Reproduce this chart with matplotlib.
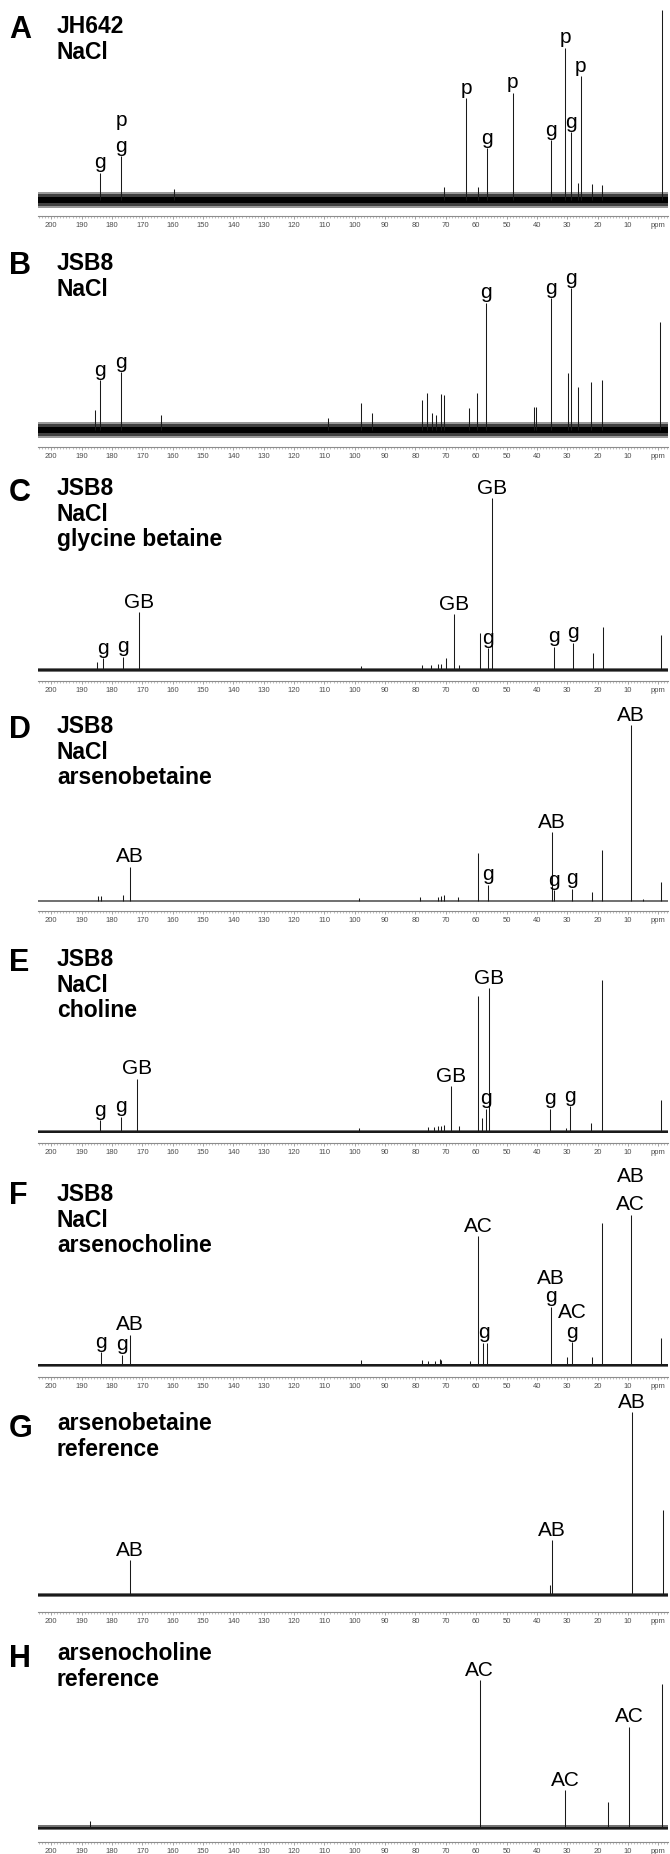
import numpy as np
import matplotlib
matplotlib.use("Agg")
import matplotlib.pyplot as plt
from matplotlib.ticker import MultipleLocator

plt.rcParams['font.family'] = ['Liberation Sans', 'DejaVu Sans']

# ---------------- data (ppm positions, peak heights in arbitrary units) ----------------
A_ppm = [184.0, 177.0, 159.6, 70.5, 63.2, 59.5, 56.4, 48.0, 35.3, 30.7, 28.7, 26.6, 25.5, 22.0, 18.4, -1.2]
A_int = [27, 44, 11, 13, 102, 13, 52, 107, 60, 152, 68, 17, 124, 16, 15, 190]
A_lab = ["g", "g", "p", "p", "g", "p", "g", "p", "g", "p"]
A_lab_ppm = [184.0, 177.0, 177.0, 63.2, 56.4, 48.0, 35.3, 30.7, 28.7, 25.5]
A_lab_lvl = [0, 0, 25, 0, 0, 0, 0, 0, 0, 0]

B_ppm = [185.5, 184.0, 177.0, 164.0, 108.9, 98.0, 94.4, 77.8, 76.1, 74.7, 73.3, 71.6, 70.5,
         62.5, 59.7, 56.7, 41.0, 40.2, 35.3, 29.7, 28.7, 26.6, 22.2, 18.7, -0.7]
B_int = [20, 50, 58, 15, 12, 27, 17, 30, 37, 17, 15, 36, 35, 22, 37, 127, 23, 23, 132, 57, 142, 43, 48, 50, 108]
B_lab = ["g", "g", "g", "g", "g"]
B_lab_ppm = [184.0, 177.0, 56.7, 35.3, 28.7]
B_lab_lvl = [0, 0, 0, 0, 0]

C_ppm = [185.0, 183.1, 176.4, 171.1, 98.0, 78.0, 75.0, 72.5, 71.5, 69.8, 67.4, 65.5, 58.8, 56.2,
         54.7, 34.5, 28.0, 21.5, 18.2, -1.0]
C_int = [8, 12, 13, 58, 4, 5, 5, 6, 6, 12, 56, 5, 37, 22, 172, 23, 27, 17, 43, 35]
C_lab = ["g", "g", "GB", "GB", "g", "GB", "g", "g"]
C_lab_ppm = [183.1, 176.4, 171.1, 67.4, 56.2, 54.7, 34.5, 28.0]
C_lab_lvl = [0, 0, 0, 0, 0, 0, 0, 0]

D_ppm = [184.5, 183.5, 176.5, 174.0, 98.5, 78.5, 72.5, 71.5, 70.5, 66.0, 59.3, 56.0, 35.0, 34.3,
         28.3, 22.0, 18.4, 9.0, 5.0, -1.0]
D_int = [5, 5, 6, 34, 3, 4, 4, 5, 6, 4, 48, 16, 69, 11, 12, 9, 51, 176, 2, 19]
D_lab = ["AB", "g", "AB", "g", "g", "AB"]
D_lab_ppm = [174.0, 56.0, 35.0, 34.3, 28.3, 9.0]
D_lab_lvl = [0, 0, 0, 0, 0, 0]

E_ppm = [183.8, 177.1, 171.8, 98.5, 76.0, 74.0, 72.5, 71.5, 70.5, 68.4, 65.6, 59.5, 58.1, 56.9,
         55.7, 35.6, 30.5, 29.0, 22.2, 18.7, -0.8]
E_int = [12, 15, 53, 4, 5, 5, 6, 6, 7, 46, 6, 136, 14, 23, 144, 23, 4, 26, 9, 152, 32]
E_lab = ["g", "g", "GB", "GB", "g", "GB", "g", "g"]
E_lab_ppm = [183.8, 177.1, 171.8, 68.4, 56.9, 55.7, 35.6, 29.0]
E_lab_lvl = [0, 0, 0, 0, 0, 0, 0, 0]

F_ppm = [183.5, 176.8, 174.2, 98.0, 78.0, 76.0, 73.5, 72.0, 71.5, 62.0, 59.3, 57.6, 56.4, 35.5,
         30.1, 28.3, 22.0, 18.7, 9.1, -1.0]
F_int = [13, 10, 30, 5, 5, 4, 4, 6, 5, 4, 129, 22, 22, 58, 8, 23, 8, 142, 150, 27]
F_lab = ["g", "g", "AB", "AC", "g", "g", "AB", "g", "AC", "AC", "AB"]
F_lab_ppm = [183.5, 176.8, 174.2, 59.3, 57.6, 35.5, 35.5, 28.3, 28.3, 9.1, 9.1]
F_lab_lvl = [0, 0, 0, 0, 0, 0, 19, 0, 19, 0, 28]

G_ppm = [174.0, 35.6, 34.9, 8.7, -1.5]
G_int = [35, 10, 55, 183, 85]
G_lab = ["AB", "AB", "AB"]
G_lab_ppm = [174.0, 34.9, 8.7]
G_lab_lvl = [0, 0, 0]

H_ppm = [187.4, 58.9, 30.7, 16.7, 9.6, -1.1]
H_int = [7, 148, 38, 26, 101, 144]
H_lab = ["AC", "AC", "AC"]
H_lab_ppm = [58.9, 30.7, 9.6]
H_lab_lvl = [0, 0, 0]

letters = ["A", "B", "C", "D", "E", "F", "G", "H"]
titles = ["JH642\nNaCl", "JSB8\nNaCl", "JSB8\nNaCl\nglycine betaine", "JSB8\nNaCl\narsenobetaine",
          "JSB8\nNaCl\ncholine", "JSB8\nNaCl\narsenocholine", "arsenobetaine\nreference",
          "arsenocholine\nreference"]
noise_level = [8, 8, 2, 1, 1.5, 1.5, 2, 2.5]

tick_vals = list(range(200, 0, -10)) + [0]
tick_text = [str(v) for v in range(200, 0, -10)] + ["ppm"]

panels = [(A_ppm, A_int, A_lab, A_lab_ppm, A_lab_lvl),
          (B_ppm, B_int, B_lab, B_lab_ppm, B_lab_lvl),
          (C_ppm, C_int, C_lab, C_lab_ppm, C_lab_lvl),
          (D_ppm, D_int, D_lab, D_lab_ppm, D_lab_lvl),
          (E_ppm, E_int, E_lab, E_lab_ppm, E_lab_lvl),
          (F_ppm, F_int, F_lab, F_lab_ppm, F_lab_lvl),
          (G_ppm, G_int, G_lab, G_lab_ppm, G_lab_lvl),
          (H_ppm, H_int, H_lab, H_lab_ppm, H_lab_lvl)]

# ---------------- layout (pixels) ----------------
W, HH = 670, 1854
axis_y = [216, 447, 681, 911, 1143, 1377, 1612, 1842]
base_y = [200, 430, 670, 901, 1132, 1365, 1595, 1828]
title_y = [15, 252, 477, 715, 948, 1183, 1412, 1642]
letter_y = [15, 251, 478, 715, 948, 1181, 1414, 1644]
x0, x1 = 37.6, 668.0
XL = (204.5, -3.2)

fig = plt.figure(figsize=(W / 100, HH / 100), dpi=100)

for i, (ppm, inten, lab, lab_ppm, lab_lvl) in enumerate(panels):
    ay, by = axis_y[i], base_y[i]
    top = ay - 226
    off = ay - by
    ax = fig.add_axes([x0 / W, 1 - ay / HH, (x1 - x0) / W, (ay - top) / HH])
    ax.set_xlim(*XL)
    ax.set_ylim(-off, (ay - top) - off)
    ax.patch.set_alpha(0)
    n = noise_level[i]
    if n > 3:
        ax.fill_between(XL, -n, n, color='0.6', lw=0)
        ax.fill_between(XL, -n * 0.7, n * 0.7, color='0.25', lw=0)
        ax.fill_between(XL, -n * 0.35, n * 0.35, color='black', lw=0)
    else:
        ax.fill_between(XL, -n, n, color='0.45', lw=0)
        ax.fill_between(XL, -n * 0.4, n * 0.4, color='0.1', lw=0)
    ax.vlines(ppm, 0, inten, colors='#1a1a1a', lw=0.75, clip_on=False)
    for t, p, lv in zip(lab, lab_ppm, lab_lvl):
        h = inten[int(np.argmin(np.abs(np.array(ppm) - p)))]
        ax.text(p, h + 0.5 + lv, t, ha='center', va='bottom', fontsize=15, color='black',
                clip_on=False)
    for s in ['top', 'left', 'right']:
        ax.spines[s].set_visible(False)
    ax.spines['bottom'].set_color('0.55')
    ax.spines['bottom'].set_linewidth(0.8)
    ax.set_yticks([])
    ax.set_xticks(tick_vals)
    ax.set_xticklabels(tick_text)
    ax.xaxis.set_minor_locator(MultipleLocator(1))
    ax.tick_params(axis='x', which='major', direction='out', length=2.5, width=0.5,
                   color='0.5', labelsize=5.5, labelcolor='0.3', pad=1.5)
    ax.tick_params(axis='x', which='minor', direction='out', length=1.3, width=0.4, color='0.55')

    fig.text(9 / W, 1 - letter_y[i] / HH, letters[i], fontsize=22, fontweight='bold',
             va='top', ha='left')
    fig.text(57 / W, 1 - title_y[i] / HH, titles[i], fontsize=16.5, fontweight='bold',
             va='top', ha='left', linespacing=1.15)

fig.savefig("out.png", dpi=100)
